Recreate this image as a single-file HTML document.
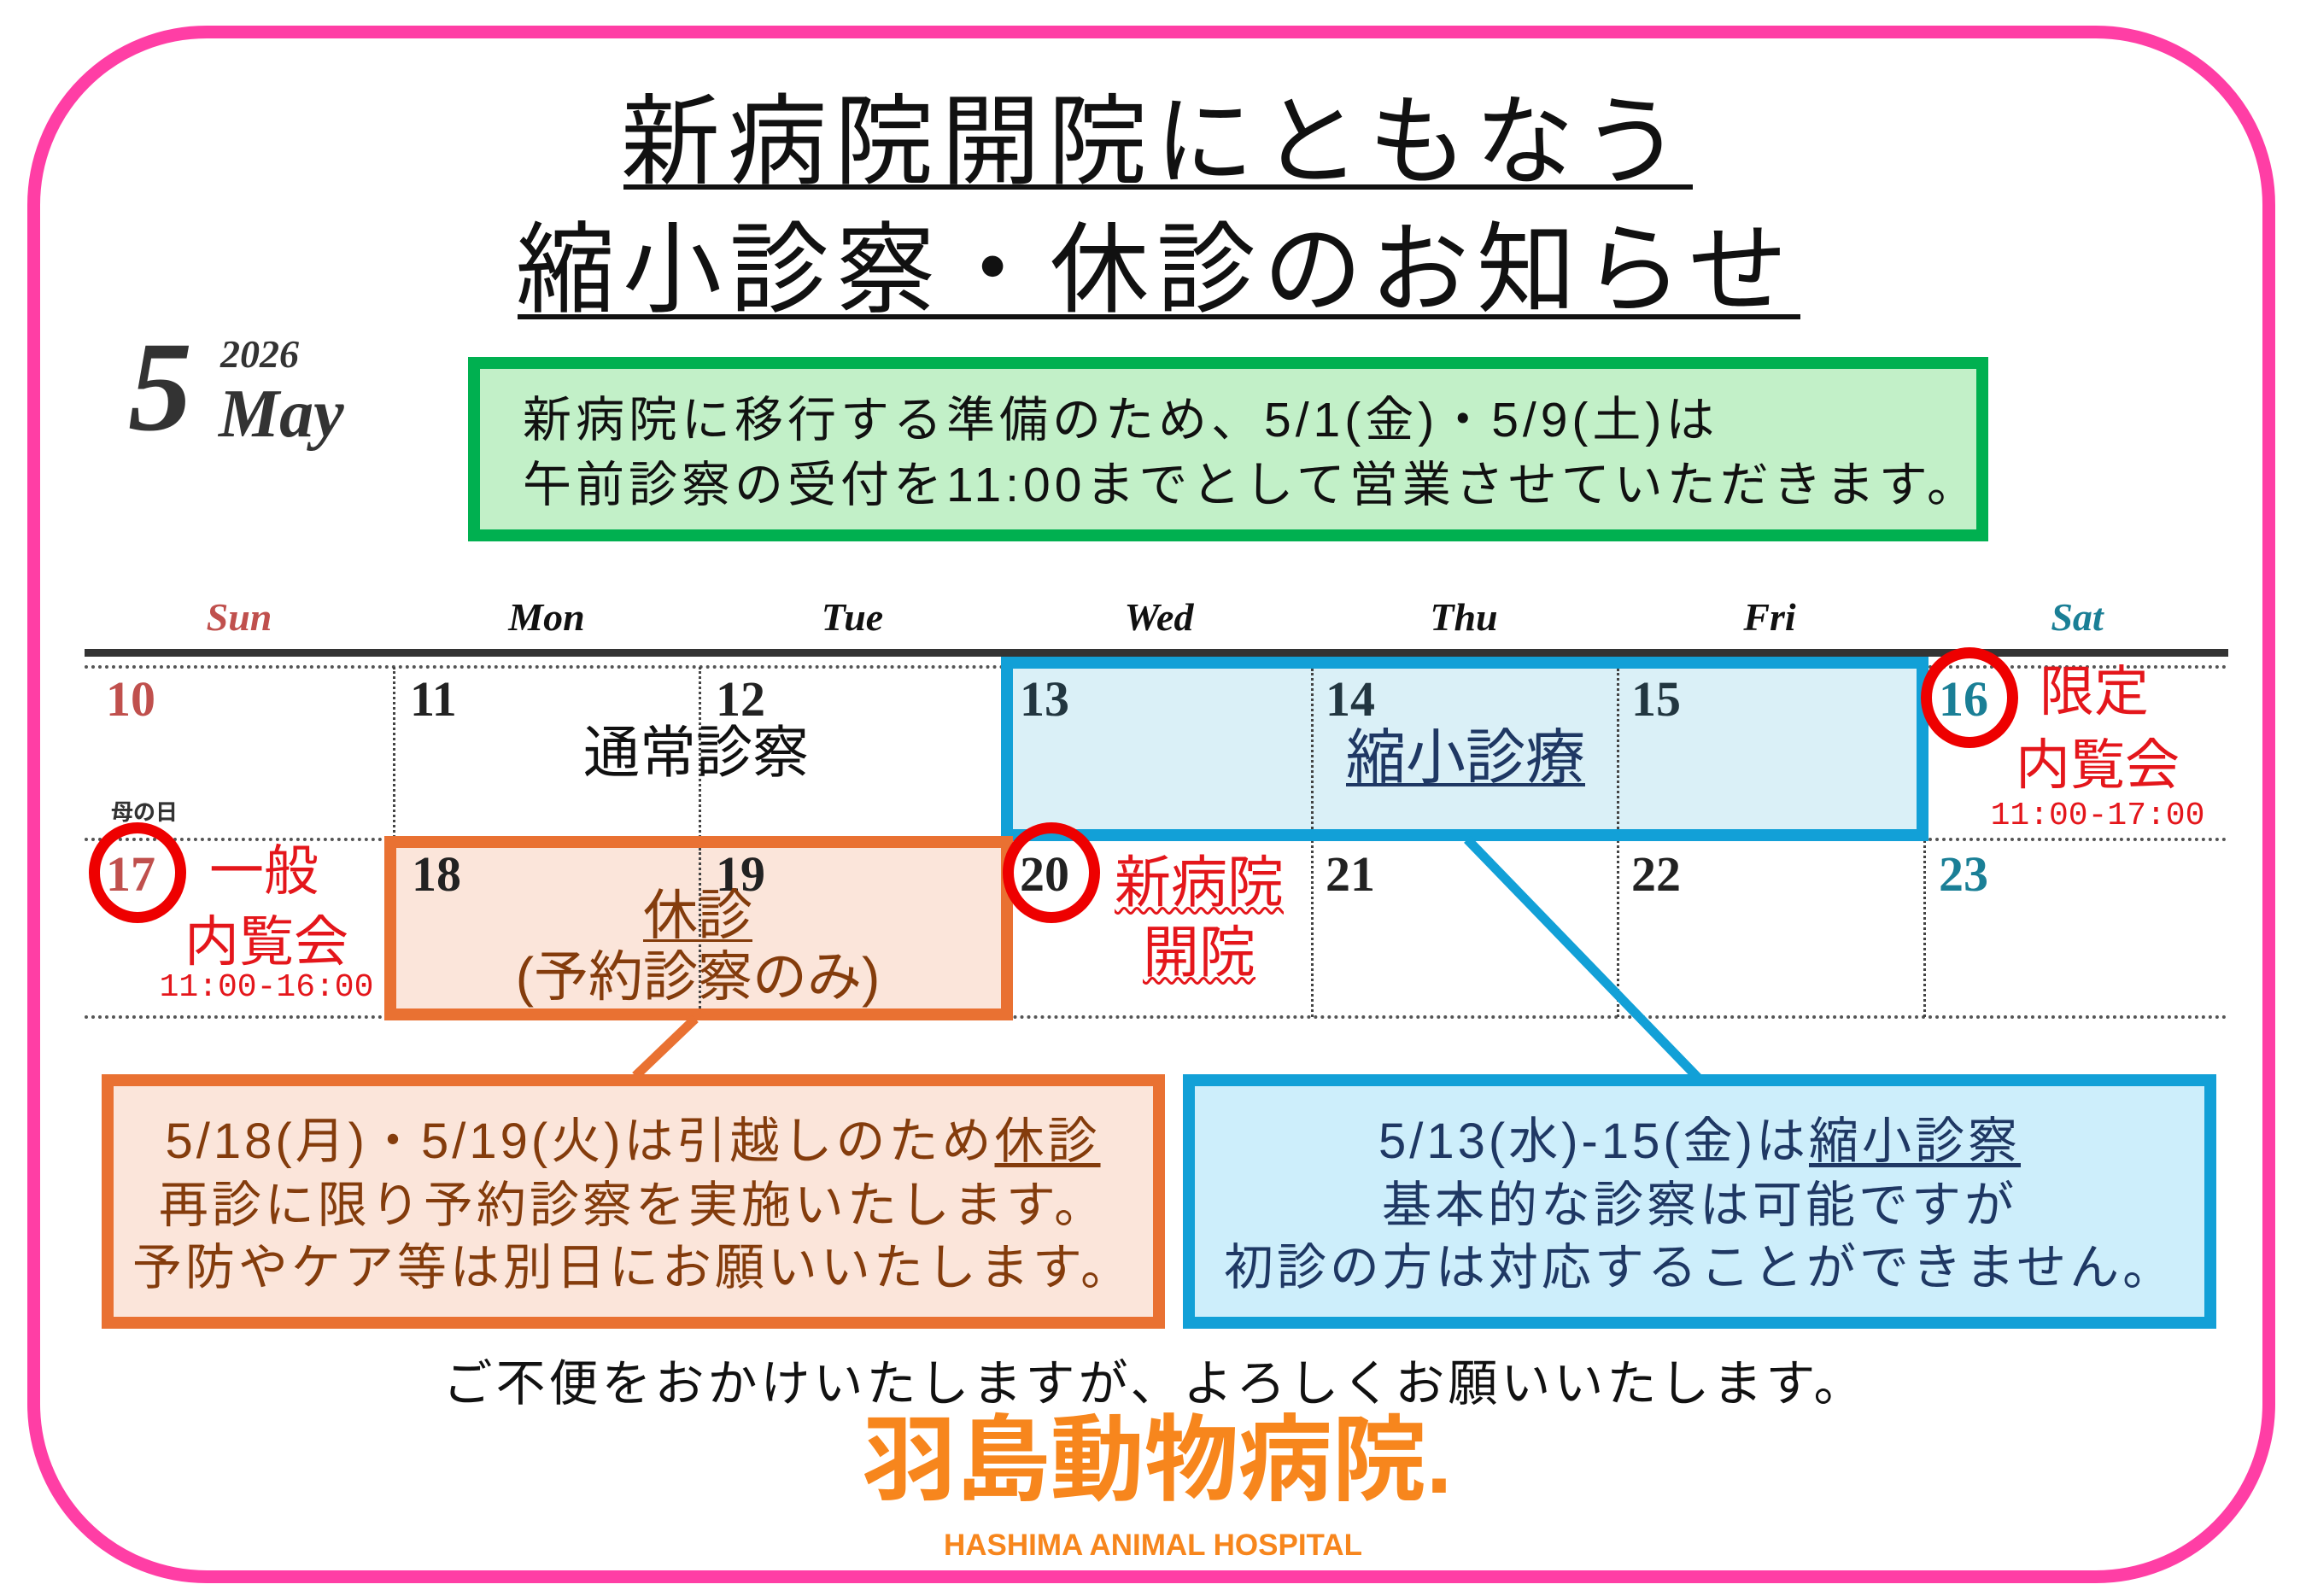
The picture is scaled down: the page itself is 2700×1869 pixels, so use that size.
<!DOCTYPE html>
<html><head><meta charset="utf-8">
<style>
*{margin:0;padding:0;box-sizing:border-box}
body{width:2700px;height:1869px;background:#fff;position:relative;overflow:hidden;font-family:"Liberation Sans","Noto Sans CJK JP",sans-serif}
.a{position:absolute;white-space:nowrap;line-height:1}
.c{transform:translateX(-50%)}
.num{font-family:"Liberation Serif","Noto Serif CJK SC",serif;font-weight:bold;font-size:58px}
.hd{font-family:"Liberation Serif",serif;font-weight:bold;font-style:italic;font-size:46px;color:#111}
.box{position:absolute}
.vd{position:absolute;border-left:3px dotted #444;width:0}
.hdl{position:absolute;border-top:4px dotted #555;height:0}
.circ{position:absolute;border:13px solid #e00;border-radius:50%;width:114px;height:118px}
.red{color:#e4161b}
</style></head><body>
<div class="box" style="left:32px;top:30px;width:2632px;height:1824px;border:15px solid #ff3ea5;border-radius:210px"></div>

<div class="a c" style="left:1352px;top:108px;font-size:116px;letter-spacing:9px;color:#111">新病院開院にともなう</div>
<div class="box" style="left:730px;top:216px;width:1252px;height:6px;background:#111"></div>
<div class="a c" style="left:1353px;top:258px;font-size:116px;letter-spacing:9px;color:#111">縮小診察・休診のお知らせ</div>
<div class="box" style="left:606px;top:368px;width:1502px;height:6px;background:#111"></div>

<div class="a" style="left:150px;top:378px;font-family:'Liberation Serif',serif;font-style:italic;font-weight:bold;font-size:150px;color:#333">5</div>
<div class="a" style="left:258px;top:392px;font-family:'Liberation Serif',serif;font-style:italic;font-weight:bold;font-size:46px;color:#333">2026</div>
<div class="a" style="left:256px;top:445px;font-family:'Liberation Serif',serif;font-style:italic;font-weight:bold;font-size:80px;color:#333">May</div>

<div class="box" style="left:548px;top:418px;width:1780px;height:216px;background:#c2f0c8;border:14px solid #00b050"></div>
<div class="a" style="left:612px;top:464px;font-size:57px;letter-spacing:5px;color:#111">新病院に移行する準備のため、5/1(金)・5/9(土)は</div>
<div class="a" style="left:612px;top:540px;font-size:57px;letter-spacing:5px;color:#111">午前診察の受付を11:00までとして営業させていただきます。</div>

<div class="a c hd" style="left:280px;top:700px;color:#c0504d">Sun</div>
<div class="a c hd" style="left:640px;top:700px">Mon</div>
<div class="a c hd" style="left:998px;top:700px">Tue</div>
<div class="a c hd" style="left:1357px;top:700px">Wed</div>
<div class="a c hd" style="left:1714px;top:700px">Thu</div>
<div class="a c hd" style="left:2072px;top:700px">Fri</div>
<div class="a c hd" style="left:2432px;top:700px;color:#1a7f96">Sat</div>
<div class="box" style="left:99px;top:760px;width:2510px;height:9px;background:#333"></div>

<div class="hdl" style="left:99px;top:779px;width:2510px"></div>
<div class="hdl" style="left:99px;top:981px;width:2510px"></div>
<div class="hdl" style="left:99px;top:1189px;width:2510px"></div>
<div class="vd" style="left:460px;top:781px;height:410px"></div>
<div class="vd" style="left:818px;top:781px;height:410px"></div>
<div class="vd" style="left:1535px;top:781px;height:410px"></div>
<div class="vd" style="left:1893px;top:781px;height:410px"></div>
<div class="vd" style="left:2252px;top:781px;height:410px"></div>

<div class="box" style="left:1172px;top:769px;width:1086px;height:216px;background:#daf0f7;border:14px solid #12a0d7"></div>
<div class="vd" style="left:1535px;top:783px;height:188px"></div>
<div class="vd" style="left:1893px;top:783px;height:188px"></div>
<div class="box" style="left:450px;top:979px;width:736px;height:216px;background:#fbe5da;border:14px solid #e97132"></div>
<div class="vd" style="left:818px;top:993px;height:188px"></div>

<div class="a num" style="left:124px;top:790px;color:#c0504d">10</div>
<div class="a num" style="left:480px;top:790px;color:#222">11</div>
<div class="a num" style="left:838px;top:790px;color:#222">12</div>
<div class="a num" style="left:1194px;top:790px;color:#223640">13</div>
<div class="a num" style="left:1552px;top:790px;color:#223640">14</div>
<div class="a num" style="left:1910px;top:790px;color:#223640">15</div>
<div class="a num" style="left:2270px;top:790px;color:#1a7f96">16</div>
<div class="a num" style="left:124px;top:995px;color:#c0504d">17</div>
<div class="a num" style="left:482px;top:995px;color:#222">18</div>
<div class="a num" style="left:838px;top:995px;color:#222">19</div>
<div class="a num" style="left:1194px;top:995px;color:#222">20</div>
<div class="a num" style="left:1552px;top:995px;color:#222">21</div>
<div class="a num" style="left:1910px;top:995px;color:#222">22</div>
<div class="a num" style="left:2270px;top:995px;color:#1a7f96">23</div>

<div class="circ" style="left:2249px;top:758px"></div>
<div class="circ" style="left:104px;top:963px"></div>
<div class="circ" style="left:1174px;top:963px"></div>

<div class="a c" style="left:815px;top:848px;font-size:66px;color:#111">通常診察</div>
<div class="a c" style="left:1716px;top:852px;font-size:70px;color:#1f3864;text-decoration:underline;text-decoration-thickness:4px;text-underline-offset:6px">縮小診療</div>
<div class="a" style="left:130px;top:938px;font-size:26px;font-weight:bold;color:#333">母の日</div>
<div class="a" style="left:2388px;top:778px;font-size:64px;color:#e4161b">限定</div>
<div class="a c red" style="left:2456px;top:864px;font-size:64px">内覧会</div>
<div class="a c red" style="left:2456px;top:937px;font-size:38px;font-family:'Liberation Mono',monospace">11:00-17:00</div>
<div class="a red" style="left:245px;top:988px;font-size:64px">一般</div>
<div class="a c red" style="left:312px;top:1071px;font-size:64px">内覧会</div>
<div class="a c red" style="left:312px;top:1138px;font-size:38px;font-family:'Liberation Mono',monospace">11:00-16:00</div>
<div class="a c red" style="left:1404px;top:1000px;font-size:66px;text-decoration:underline wavy;text-decoration-thickness:3px;text-underline-offset:6px">新病院</div>
<div class="a c red" style="left:1404px;top:1082px;font-size:66px;text-decoration:underline wavy;text-decoration-thickness:3px;text-underline-offset:6px">開院</div>
<div class="a c" style="left:817px;top:1040px;font-size:64px;color:#843c0c;text-decoration:underline;text-decoration-thickness:3px;text-underline-offset:6px">休診</div>
<div class="a c" style="left:817px;top:1112px;font-size:64px;color:#843c0c">(予約診察のみ)</div>

<svg class="box" style="left:0;top:0" width="2700" height="1869">
<line x1="814" y1="1193" x2="744" y2="1260" stroke="#e97132" stroke-width="11"/>
<line x1="1718" y1="983" x2="1988" y2="1262" stroke="#12a0d7" stroke-width="11"/>
</svg>

<div class="box" style="left:119px;top:1258px;width:1245px;height:298px;background:#fbe5da;border:14px solid #e97132"></div>
<div class="a c" style="left:741px;top:1308px;font-size:58px;letter-spacing:4px;color:#843c0c">5/18(月)・5/19(火)は引越しのため<span style="text-decoration:underline;text-underline-offset:6px">休診</span></div>
<div class="a c" style="left:741px;top:1383px;font-size:58px;letter-spacing:4px;color:#843c0c">再診に限り予約診察を実施いたします。</div>
<div class="a c" style="left:741px;top:1456px;font-size:58px;letter-spacing:4px;color:#843c0c">予防やケア等は別日にお願いいたします。</div>

<div class="box" style="left:1385px;top:1258px;width:1210px;height:298px;background:#cdeefb;border:14px solid #12a0d7"></div>
<div class="a c" style="left:1990px;top:1308px;font-size:58px;letter-spacing:4px;color:#1f3864">5/13(水)-15(金)は<span style="text-decoration:underline;text-underline-offset:6px">縮小診察</span></div>
<div class="a c" style="left:1990px;top:1383px;font-size:58px;letter-spacing:4px;color:#1f3864">基本的な診察は可能ですが</div>
<div class="a c" style="left:1990px;top:1456px;font-size:58px;letter-spacing:4px;color:#1f3864">初診の方は対応することができません。</div>

<div class="a c" style="left:1352px;top:1592px;font-size:58px;letter-spacing:4px;color:#111">ご不便をおかけいたしますが、よろしくお願いいたします。</div>
<div class="a c" style="left:1355px;top:1656px;font-size:110px;font-weight:bold;color:#f7861d">羽島動物病院.</div>
<div class="a c" style="left:1350px;top:1792px;font-size:35px;font-weight:bold;color:#f7861d">HASHIMA ANIMAL HOSPITAL</div>
</body></html>
